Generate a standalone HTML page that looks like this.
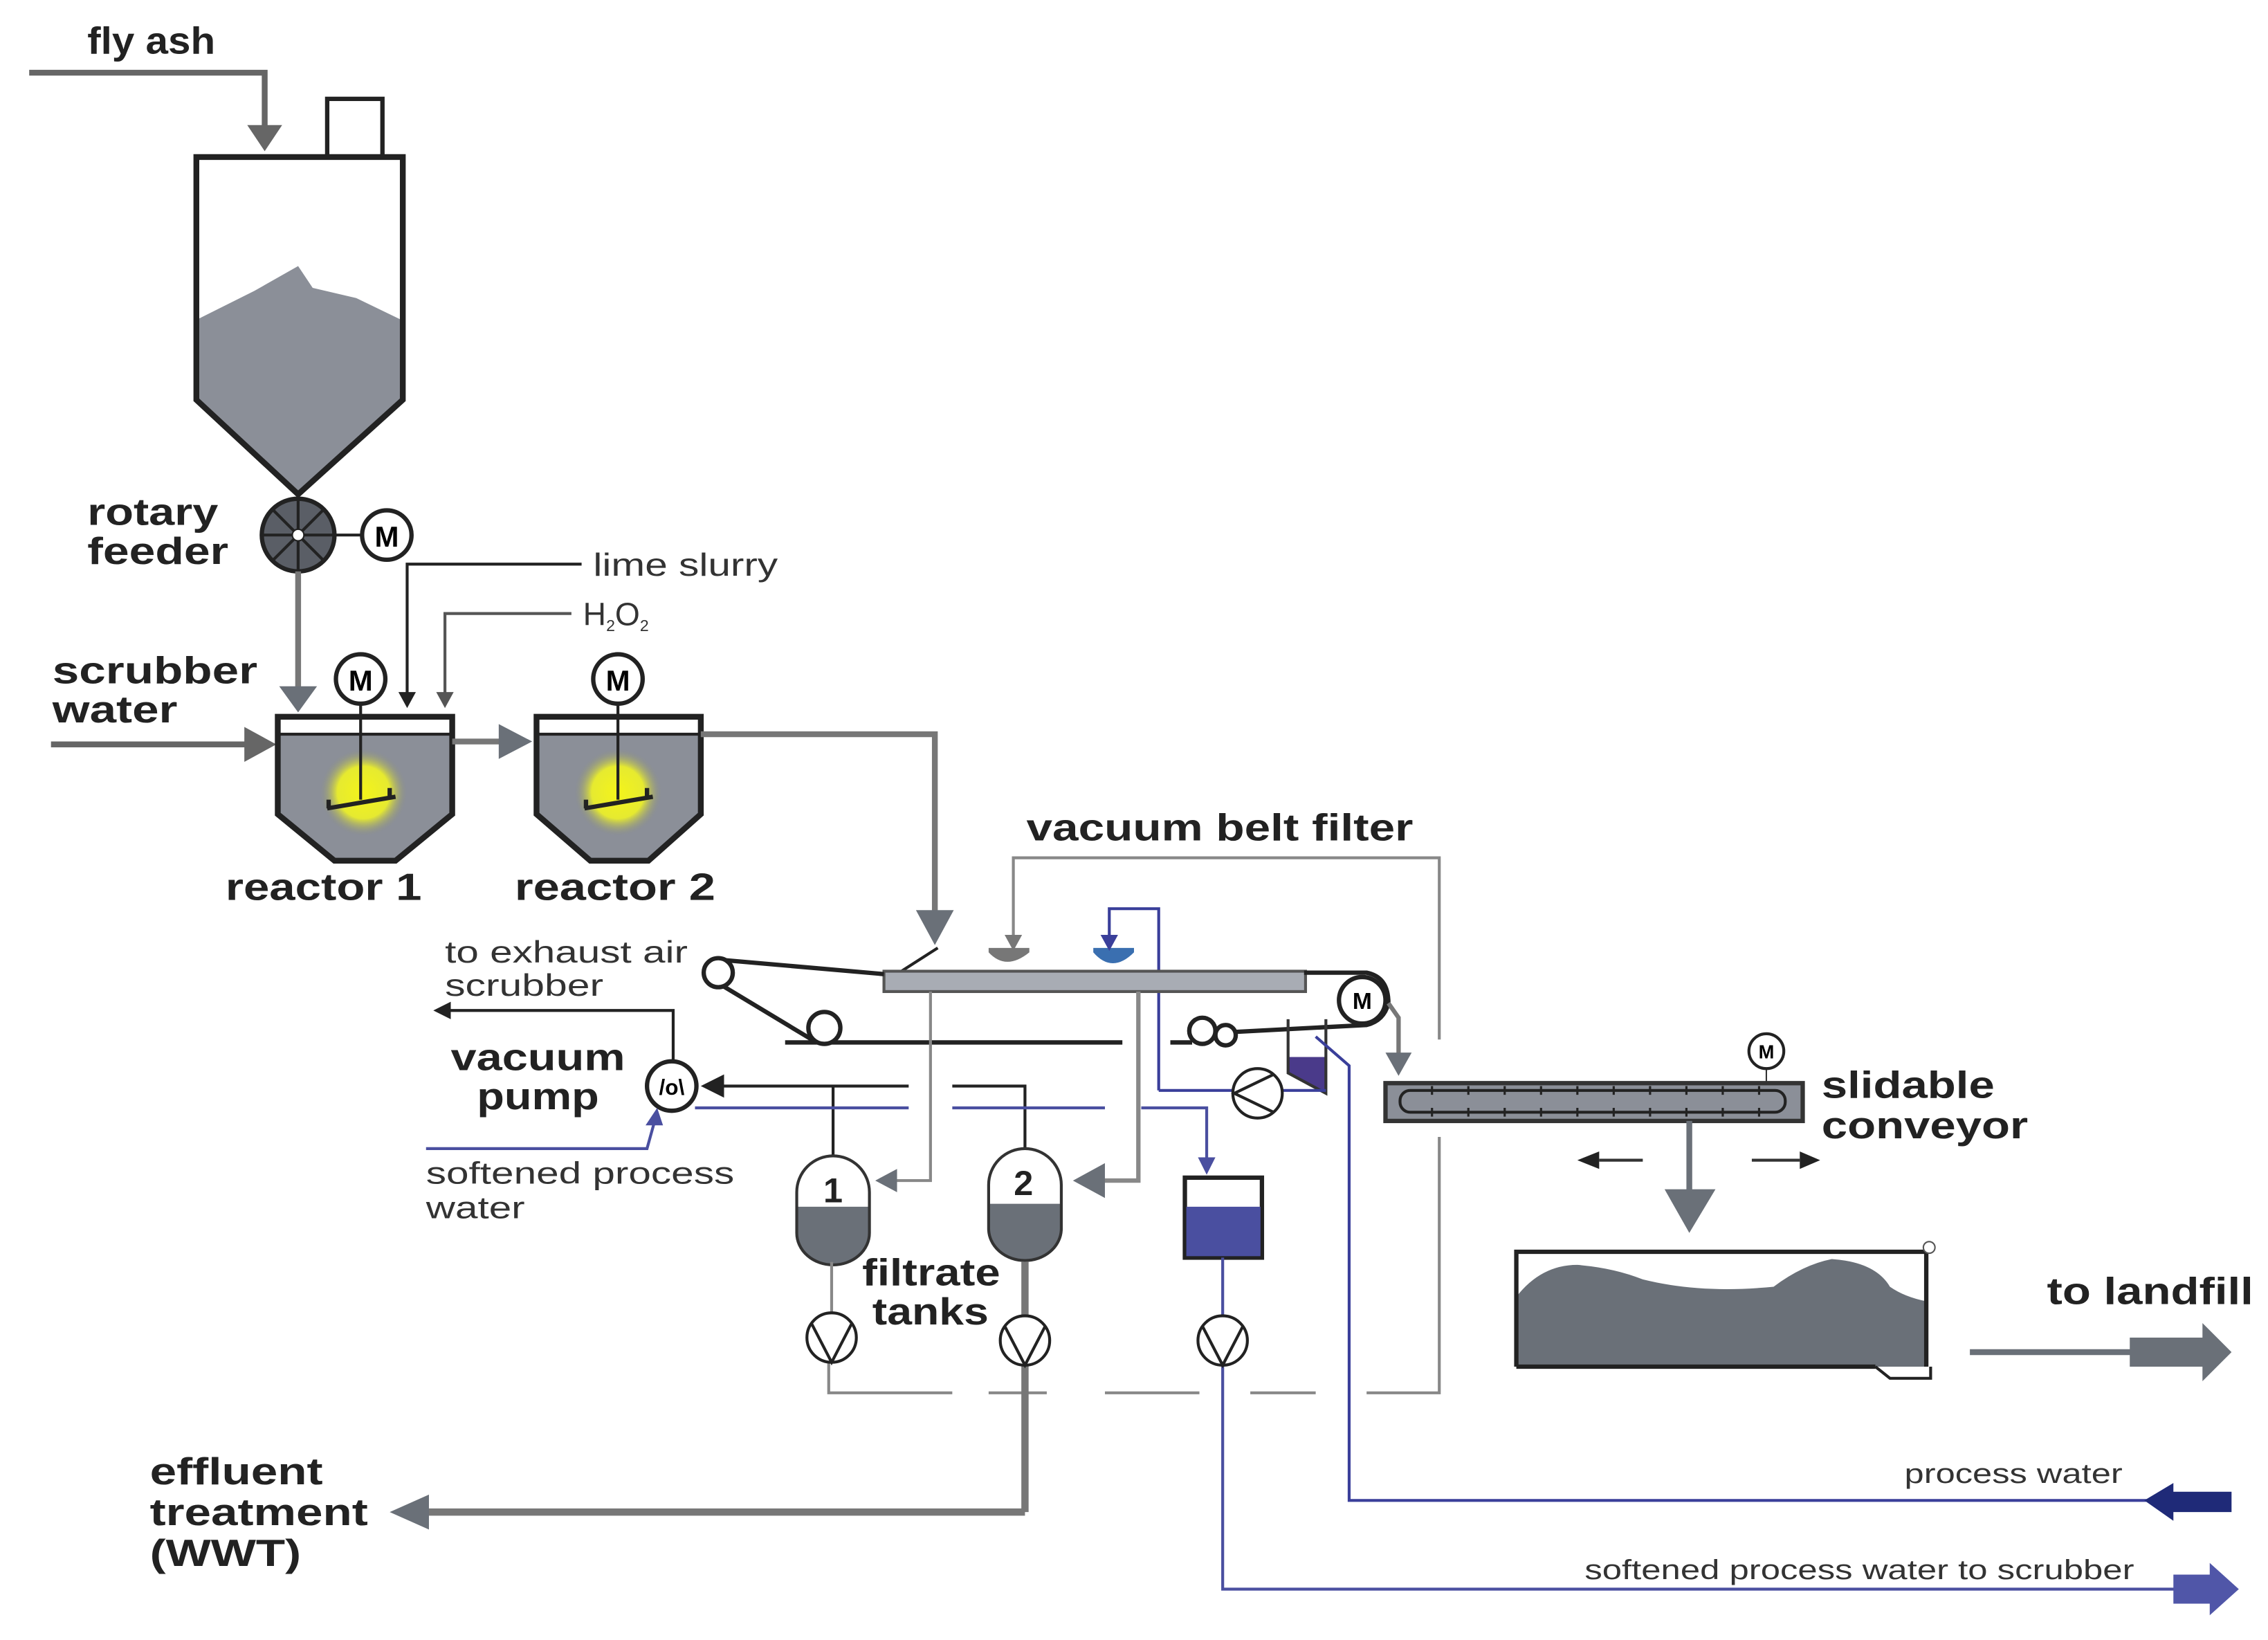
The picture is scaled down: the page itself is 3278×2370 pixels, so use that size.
<!DOCTYPE html>
<html><head><meta charset="utf-8"><style>
html,body{margin:0;padding:0;background:#fff}
svg{display:block}
text{font-family:"Liberation Sans",sans-serif}
.b{font-weight:bold;font-size:26px;fill:#222}
.n{font-size:21px;fill:#333}
</style></head><body>
<svg width="3278" height="2370" viewBox="0 0 1560 1128" xmlns="http://www.w3.org/2000/svg">
<defs>
<radialGradient id="yg"><stop offset="0" stop-color="#f4f41a"/><stop offset="0.6" stop-color="#e6ea30"/><stop offset="1" stop-color="#8a8e80" stop-opacity="0"/></radialGradient>
</defs>
<rect width="1560" height="1128" fill="#fff"/>
<!-- fly ash -->
<text x="60" y="37" class="b" textLength="88" lengthAdjust="spacingAndGlyphs">fly ash</text>
<polyline points="20,50 182,50 182,88" fill="none" stroke="#666" stroke-width="4"/>
<polygon points="170,86 194,86 182,104" fill="#666"/>
<rect x="225" y="68" width="38" height="40" fill="#fff" stroke="#222" stroke-width="3"/>
<!-- silo -->
<path d="M135,220 L175,200 L205,183 L215,198 L245,205 L276,220 L276,275 L205,340 L135,275 Z" fill="#8b8f98"/>
<path d="M135,108 L277,108 L277,275 L205,340 L135,275 Z" fill="none" stroke="#222" stroke-width="4"/>
<!-- rotary feeder -->
<circle cx="205" cy="368" r="25" fill="#5a5e66" stroke="#222" stroke-width="3"/>
<g stroke="#222" stroke-width="2"><line x1="180" y1="368" x2="230" y2="368"/><line x1="205" y1="343" x2="205" y2="393"/><line x1="187" y1="350" x2="223" y2="386"/><line x1="223" y1="350" x2="187" y2="386"/></g>
<circle cx="205" cy="368" r="4" fill="#fff" stroke="#222"/>
<line x1="230" y1="368" x2="249" y2="368" stroke="#222" stroke-width="2"/>
<circle cx="266" cy="368" r="17" fill="#fff" stroke="#222" stroke-width="3"/>
<text x="266" y="376" text-anchor="middle" style="font-weight:bold;font-size:20px">M</text>
<text x="60" y="361" class="b" textLength="90" lengthAdjust="spacingAndGlyphs">rotary</text><text x="60" y="388" class="b" textLength="97" lengthAdjust="spacingAndGlyphs">feeder</text>
<line x1="205" y1="393" x2="205" y2="474" stroke="#777" stroke-width="4"/>
<polygon points="192,472 218,472 205,490" fill="#6a7078"/>
<!-- lime slurry / H2O2 -->
<polyline points="400,388 280,388 280,478" fill="none" stroke="#222" stroke-width="2"/>
<polygon points="274,476 286,476 280,487" fill="#222"/>
<text x="408" y="396" class="n" style="font-size:22px" textLength="127" lengthAdjust="spacingAndGlyphs">lime slurry</text>
<polyline points="393,422 306,422 306,478" fill="none" stroke="#555" stroke-width="2"/>
<polygon points="300,476 312,476 306,487" fill="#555"/>
<text x="401" y="430" style="font-size:22px;fill:#333">H<tspan font-size="11" dy="4">2</tspan><tspan dy="-4">O</tspan><tspan font-size="11" dy="4">2</tspan></text>
<!-- scrubber water -->
<text x="36" y="470" class="b" textLength="141" lengthAdjust="spacingAndGlyphs">scrubber</text><text x="36" y="497" class="b" textLength="86" lengthAdjust="spacingAndGlyphs">water</text>
<line x1="35" y1="512" x2="170" y2="512" stroke="#666" stroke-width="4"/>
<polygon points="168,500 190,512 168,524" fill="#666"/>
<!-- reactors -->
<g>
<path d="M191,505 L311,505 L311,560 L272,592 L230,592 L191,560 Z" fill="#8b8f98"/>
<circle cx="250" cy="545" r="30" fill="url(#yg)"/>
<path d="M191,493 L311,493 L311,560 L272,592 L230,592 L191,560 Z" fill="none" stroke="#222" stroke-width="4"/>
<line x1="191" y1="505" x2="311" y2="505" stroke="#222" stroke-width="2"/>
<line x1="248" y1="484" x2="248" y2="550" stroke="#222" stroke-width="2"/>
<path d="M225,556 L272,548 M226,550 L226,556 M268,542 L268,550" stroke="#222" stroke-width="3" fill="none"/>
<circle cx="248" cy="467" r="17" fill="#fff" stroke="#222" stroke-width="3"/>
<text x="248" y="475" text-anchor="middle" style="font-weight:bold;font-size:20px">M</text>
</g>
<g>
<path d="M369,505 L482,505 L482,560 L446,592 L406,592 L369,560 Z" fill="#8b8f98"/>
<circle cx="425" cy="545" r="30" fill="url(#yg)"/>
<path d="M369,493 L482,493 L482,560 L446,592 L406,592 L369,560 Z" fill="none" stroke="#222" stroke-width="4"/>
<line x1="369" y1="505" x2="482" y2="505" stroke="#222" stroke-width="2"/>
<line x1="425" y1="484" x2="425" y2="550" stroke="#222" stroke-width="2"/>
<path d="M402,556 L449,548 M403,550 L403,556 M445,542 L445,550" stroke="#222" stroke-width="3" fill="none"/>
<circle cx="425" cy="467" r="17" fill="#fff" stroke="#222" stroke-width="3"/>
<text x="425" y="475" text-anchor="middle" style="font-weight:bold;font-size:20px">M</text>
</g>
<line x1="311" y1="510" x2="345" y2="510" stroke="#777" stroke-width="4"/>
<polygon points="343,498 366,510 343,522" fill="#6a7078"/>
<polyline points="482,505 643,505 643,628" fill="none" stroke="#777" stroke-width="4"/>
<polygon points="630,626 656,626 643,650" fill="#6a7078"/>
<text x="155" y="619" class="b" textLength="135" lengthAdjust="spacingAndGlyphs">reactor 1</text><text x="354" y="619" class="b" textLength="138" lengthAdjust="spacingAndGlyphs">reactor 2</text>
<!-- vacuum belt filter -->
<text x="706" y="578" class="b" textLength="266" lengthAdjust="spacingAndGlyphs">vacuum belt filter</text>
<polyline points="990,715 990,590 697,590 697,645" fill="none" stroke="#888" stroke-width="2"/>
<polygon points="691,643 703,643 697,654" fill="#777"/>
<polyline points="990,782 990,958 940,958" fill="none" stroke="#888" stroke-width="2"/>
<path d="M905,958 H860 M825,958 H760 M720,958 H680 M655,958 H570 V935" fill="none" stroke="#888" stroke-width="2"/>
<path d="M680,655 Q692,668 708,655 L708,652 L680,652 Z" fill="#777"/>
<path d="M752,655 Q765,670 780,655 L780,652 L752,652 Z" fill="#3a6fb0"/>
<polyline points="797,750 797,625 763,625 763,645" fill="none" stroke="#3a3f9a" stroke-width="2"/>
<polygon points="757,643 769,643 763,654" fill="#3a3f9a"/>
<line x1="620" y1="668" x2="645" y2="652" stroke="#222" stroke-width="2"/>
<!-- belt -->
<rect x="608" y="668" width="290" height="14" fill="#a8acb4" stroke="#555" stroke-width="2"/>
<path d="M494,660 L608,670 M487,672 L560,716 M540,717 L772,717" stroke="#222" stroke-width="3" fill="none"/>
<circle cx="494" cy="669" r="10" fill="#fff" stroke="#222" stroke-width="3"/>
<circle cx="567" cy="707" r="11" fill="#fff" stroke="#222" stroke-width="3"/>
<path d="M897,669 L940,669 Q955,672 955,690 Q952,702 940,705 L845,710 M805,717 L820,717" stroke="#222" stroke-width="3" fill="none"/>
<circle cx="827" cy="709" r="9" fill="#fff" stroke="#222" stroke-width="3"/>
<circle cx="843" cy="712" r="7" fill="#fff" stroke="#222" stroke-width="3"/>
<circle cx="937" cy="688" r="16" fill="#fff" stroke="#222" stroke-width="3"/>
<text x="937" y="694" text-anchor="middle" style="font-weight:bold;font-size:16px">M</text>
<!-- chute -->
<polygon points="886,727 912,727 912,752 886,738" fill="#4a3a8a"/>
<path d="M886,701 L886,738 L912,752 L912,701" fill="none" stroke="#333" stroke-width="2"/>
<polyline points="797,750 848,750" fill="none" stroke="#3a3f9a" stroke-width="2"/>
<polyline points="882,750 912,750" fill="none" stroke="#3a3f9a" stroke-width="2"/>
<circle cx="865" cy="752" r="17" fill="#fff" stroke="#222" stroke-width="2"/>
<path d="M876,739 L849,752 L876,765" fill="none" stroke="#222" stroke-width="2"/>
<polyline points="905,713 928,733 928,1032 1480,1032" fill="none" stroke="#3a3f9a" stroke-width="2"/>
<polygon points="1475,1032 1495,1020 1495,1026 1535,1026 1535,1040 1495,1040 1495,1046" fill="#1f2a78"/>
<text x="1310" y="1020" class="n" style="font-size:19px" textLength="150" lengthAdjust="spacingAndGlyphs">process water</text>
<!-- to conveyor -->
<polyline points="955,690 962,700 962,726" fill="none" stroke="#777" stroke-width="3"/>
<polygon points="953,724 971,724 962,740" fill="#6a7078"/>
<!-- conveyor -->
<rect x="953" y="745" width="287" height="26" fill="#8b8f98" stroke="#333" stroke-width="3"/>
<rect x="963" y="750" width="265" height="15" rx="7" fill="#8b8f98" stroke="#222" stroke-width="2"/>
<g stroke="#222" stroke-width="1.5"><path d="M985,747 V753 M1010,747 V753 M1035,747 V753 M1060,747 V753 M1085,747 V753 M1110,747 V753 M1135,747 V753 M1160,747 V753 M1185,747 V753 M1210,747 V753 M985,762 V768 M1010,762 V768 M1035,762 V768 M1060,762 V768 M1085,762 V768 M1110,762 V768 M1135,762 V768 M1160,762 V768 M1185,762 V768 M1210,762 V768"/></g>
<line x1="1215" y1="735" x2="1215" y2="745" stroke="#333"/>
<circle cx="1215" cy="723" r="12" fill="#fff" stroke="#222" stroke-width="2"/>
<text x="1215" y="728" text-anchor="middle" style="font-weight:bold;font-size:13px">M</text>
<text x="1253" y="755" class="b" textLength="119" lengthAdjust="spacingAndGlyphs">slidable</text><text x="1253" y="783" class="b" textLength="142" lengthAdjust="spacingAndGlyphs">conveyor</text>
<line x1="1162" y1="771" x2="1162" y2="820" stroke="#6a7078" stroke-width="4"/>
<polygon points="1145,818 1180,818 1162,848" fill="#6a7078"/>
<line x1="1100" y1="798" x2="1130" y2="798" stroke="#333" stroke-width="2"/><polygon points="1085,798 1100,792 1100,804" fill="#222"/>
<line x1="1205" y1="798" x2="1238" y2="798" stroke="#333" stroke-width="2"/><polygon points="1252,798 1238,792 1238,804" fill="#222"/>
<!-- landfill -->
<path d="M1043,892 Q1060,870 1085,870 Q1110,872 1130,880 Q1170,890 1220,885 Q1240,870 1260,866 Q1290,868 1300,885 Q1310,892 1325,895 L1325,940 L1043,940 Z" fill="#6a7078"/>
<path d="M1043,940 L1043,861 L1325,861 L1325,940" fill="none" stroke="#222" stroke-width="3"/>
<line x1="1043" y1="940" x2="1290" y2="940" stroke="#222" stroke-width="3"/>
<path d="M1290,940 L1300,948 L1328,948 L1328,940" fill="none" stroke="#222" stroke-width="2"/>
<circle cx="1327" cy="858" r="4" fill="#fff" stroke="#555"/>
<text x="1408" y="897" class="b" textLength="142" lengthAdjust="spacingAndGlyphs">to landfill</text>
<line x1="1355" y1="930" x2="1470" y2="930" stroke="#6a7078" stroke-width="4"/>
<polygon points="1465,920 1515,920 1515,910 1535,930 1515,950 1515,940 1465,940" fill="#6a7078"/>
<!-- vacuum pump -->
<text x="310" y="736" class="b" textLength="120" lengthAdjust="spacingAndGlyphs">vacuum</text><text x="328" y="763" class="b" textLength="84" lengthAdjust="spacingAndGlyphs">pump</text>
<text x="306" y="662" class="n" textLength="167" lengthAdjust="spacingAndGlyphs">to exhaust air</text><text x="306" y="685" class="n" textLength="109" lengthAdjust="spacingAndGlyphs">scrubber</text>
<polyline points="463,730 463,695 310,695" fill="none" stroke="#222" stroke-width="2"/>
<polygon points="298,695 310,689 310,701" fill="#222"/>
<circle cx="462" cy="747" r="17" fill="#fff" stroke="#222" stroke-width="3"/>
<text x="462" y="753" text-anchor="middle" style="font-weight:bold;font-size:15px">/o\</text>
<path d="M497,747 H625 M655,747 H705 V790 M573,747 V795" fill="none" stroke="#222" stroke-width="2"/>
<polygon points="482,747 498,739 498,755" fill="#222"/>
<path d="M478,762 H625 M655,762 H760 M785,762 H830 V798" fill="none" stroke="#4a4fa0" stroke-width="2"/>
<polygon points="824,796 836,796 830,808" fill="#4a4fa0"/>
<polyline points="293,790 445,790 450,772" fill="none" stroke="#4a4fa0" stroke-width="2"/>
<polygon points="444,774 456,774 452,762" fill="#4a4fa0"/>
<text x="293" y="814" class="n" textLength="212" lengthAdjust="spacingAndGlyphs">softened process</text><text x="293" y="838" class="n" textLength="68" lengthAdjust="spacingAndGlyphs">water</text>
<!-- filtrate from belt -->
<polyline points="640,682 640,812 615,812" fill="none" stroke="#888" stroke-width="2"/>
<polygon points="602,812 617,804 617,820" fill="#6a7078"/>
<polyline points="783,682 783,812 757,812" fill="none" stroke="#888" stroke-width="3"/>
<polygon points="738,812 760,800 760,824" fill="#6a7078"/>
<!-- tanks -->
<path d="M548,830 L598,830 L598,848 A25,22 0 0 1 548,848 Z" fill="#6a7078"/>
<path d="M548,820 A25,25 0 0 1 598,820 L598,848 A25,22 0 0 1 548,848 Z" fill="none" stroke="#333" stroke-width="2"/>
<text x="573" y="827" text-anchor="middle" style="font-weight:bold;font-size:24px;fill:#222">1</text>
<path d="M680,828 L730,828 L730,845 A25,22 0 0 1 680,845 Z" fill="#6a7078"/>
<path d="M680,815 A25,25 0 0 1 730,815 L730,845 A25,22 0 0 1 680,845 Z" fill="none" stroke="#333" stroke-width="2"/>
<text x="704" y="822" text-anchor="middle" style="font-weight:bold;font-size:24px;fill:#222">2</text>
<rect x="815" y="810" width="53" height="55" fill="#fff" stroke="#222" stroke-width="3"/>
<rect x="816" y="830" width="51" height="34" fill="#4a4fa0"/>
<text x="593" y="884" class="b" textLength="95" lengthAdjust="spacingAndGlyphs">filtrate</text><text x="600" y="911" class="b" textLength="80" lengthAdjust="spacingAndGlyphs">tanks</text>
<!-- pumps -->
<line x1="572" y1="868" x2="572" y2="903" stroke="#888" stroke-width="2"/>
<line x1="705" y1="868" x2="705" y2="1040" stroke="#777" stroke-width="5"/>
<polyline points="841,865 841,1093 1510,1093" fill="none" stroke="#4a4fa0" stroke-width="2"/>
<g fill="#fff" stroke="#222" stroke-width="2">
<circle cx="572" cy="920" r="17"/><circle cx="705" cy="922" r="17"/><circle cx="841" cy="922" r="17"/></g>
<path d="M558,910 L572,937 L586,910 M691,912 L705,939 L719,912 M827,912 L841,939 L855,912" fill="none" stroke="#222" stroke-width="2"/>
<polygon points="1495,1083 1520,1083 1520,1075 1540,1093 1520,1111 1520,1103 1495,1103" fill="#5056a8"/>
<text x="1090" y="1086" class="n" style="font-size:19px" textLength="378" lengthAdjust="spacingAndGlyphs">softened process water to scrubber</text>
<!-- effluent -->
<polyline points="705,1040 290,1040" fill="none" stroke="#777" stroke-width="5"/>
<polygon points="268,1040 295,1028 295,1052" fill="#6a7078"/>
<text x="103" y="1021" class="b" textLength="119" lengthAdjust="spacingAndGlyphs">effluent</text><text x="103" y="1049" class="b" textLength="150" lengthAdjust="spacingAndGlyphs">treatment</text><text x="103" y="1077" class="b" textLength="104" lengthAdjust="spacingAndGlyphs">(WWT)</text>
</svg>
</body></html>
